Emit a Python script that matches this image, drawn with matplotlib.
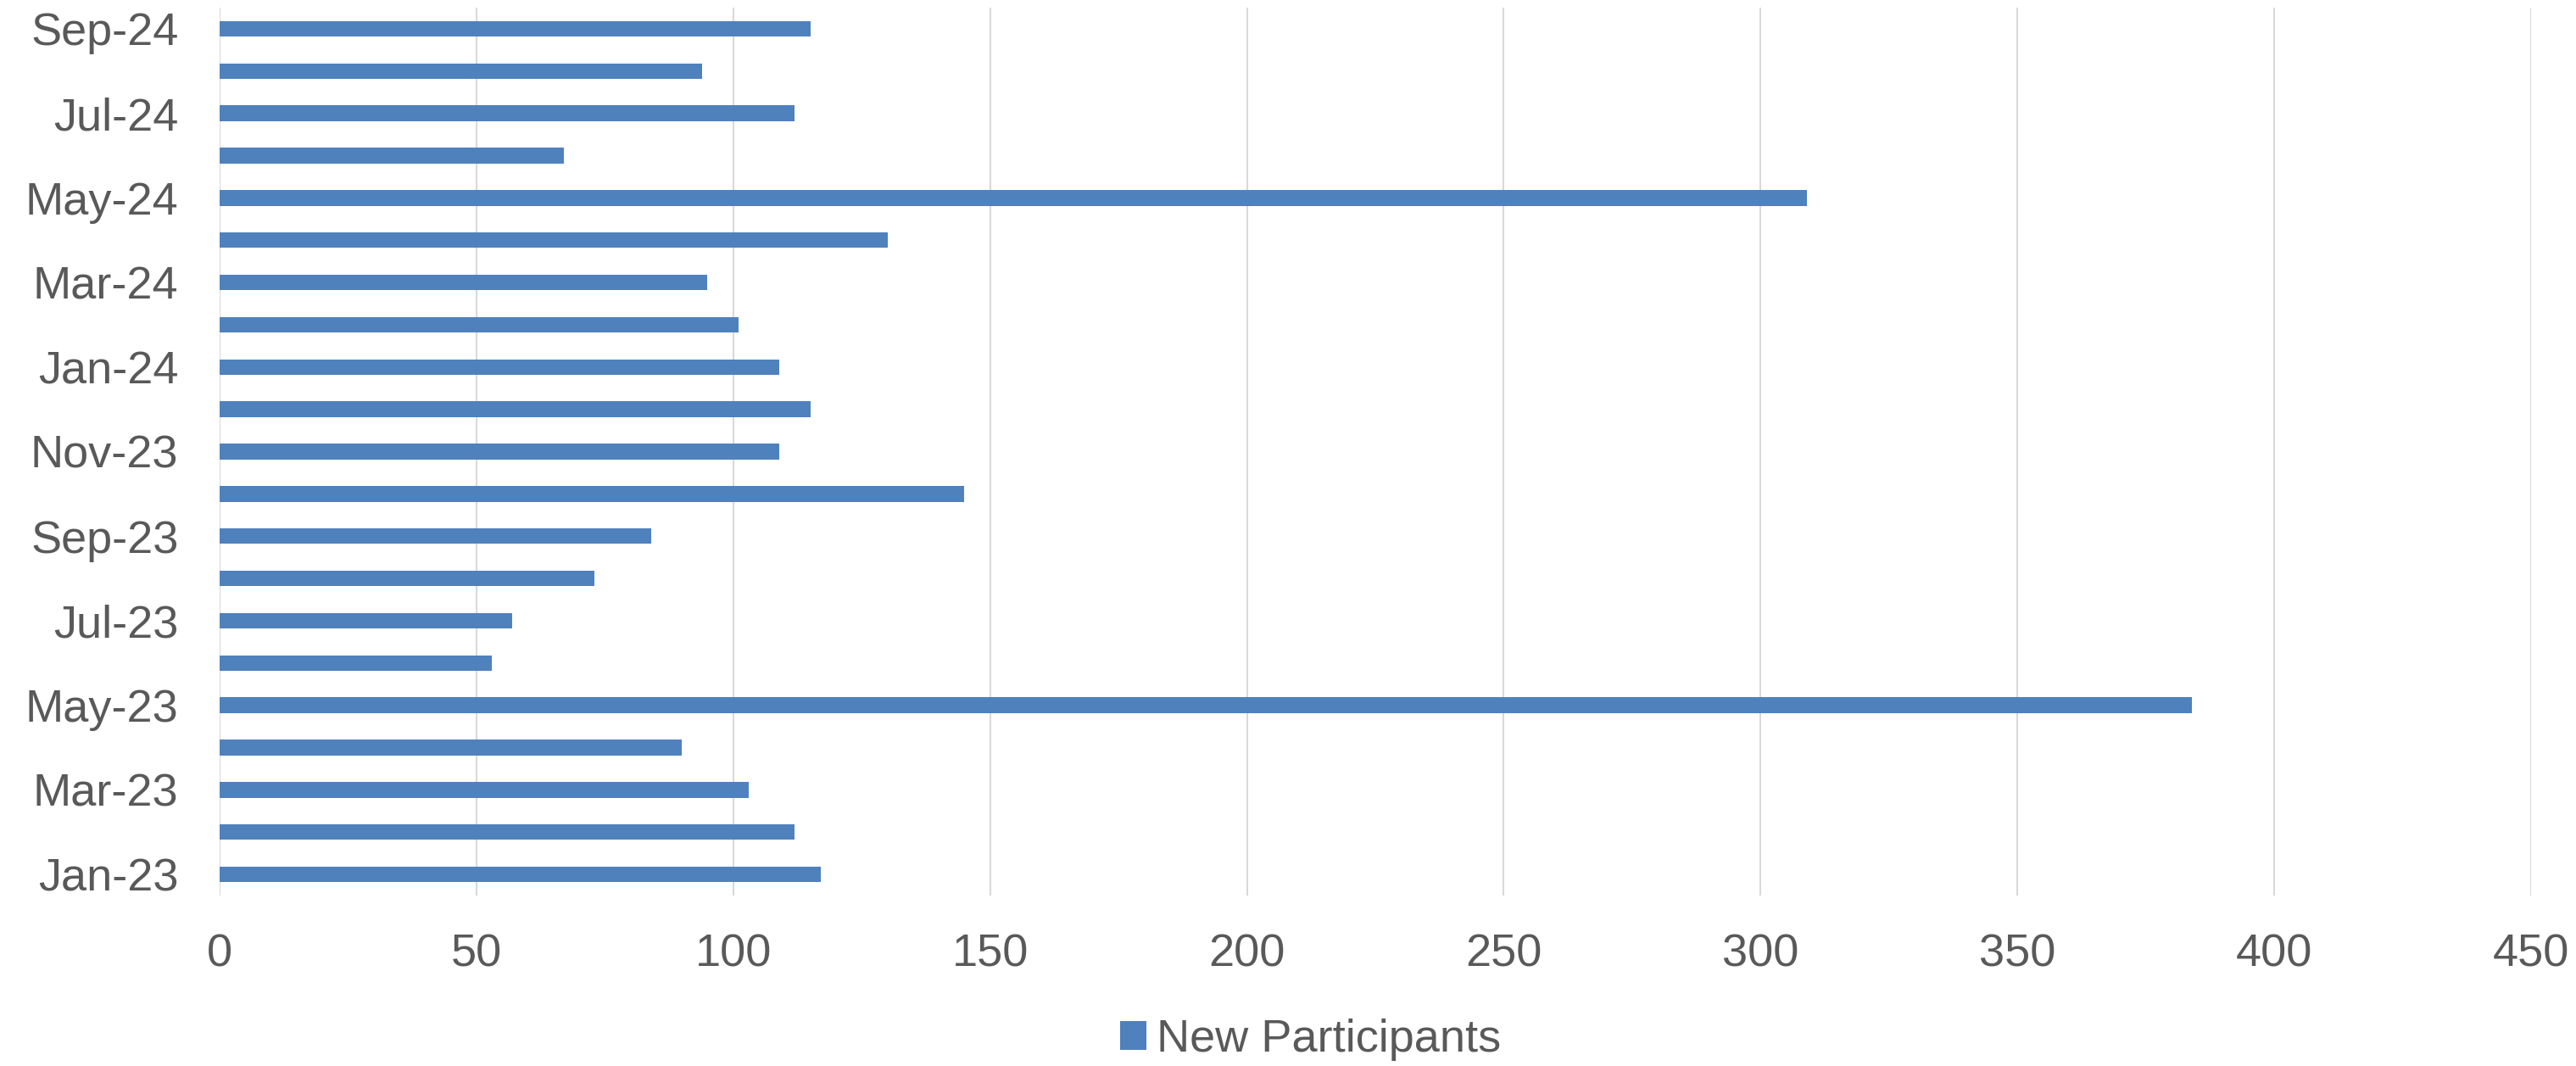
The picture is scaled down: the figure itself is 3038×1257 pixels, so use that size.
import matplotlib.pyplot as plt
import numpy as np

#---------------------------------------------------------------- data ----------------------------------------------------------------#
months = ["Jan-23", "Feb-23", "Mar-23", "Apr-23", "May-23", "Jun-23", "Jul-23", "Aug-23", "Sep-23", "Oct-23", "Nov-23",
          "Dec-23", "Jan-24", "Feb-24", "Mar-24", "Apr-24", "May-24", "Jun-24", "Jul-24", "Aug-24", "Sep-24"]
new_participants = [117, 112, 103, 90, 384, 53, 57, 73, 84, 145, 109,
                    115, 109, 101, 95, 130, 309, 67, 112, 94, 115]
x_ticks = [0, 50, 100, 150, 200, 250, 300, 350, 400, 450]

#---------------------------------------------------------------- plot ----------------------------------------------------------------#
plt.rcParams['font.family'] = ['Liberation Sans', 'DejaVu Sans']
text_col = "#595959"
bar_col = "#4F81BD"

fig = plt.figure(figsize=(30.38, 12.57), dpi=100)
ax = fig.add_axes([259/3038, 1 - 1056/1257, (2985-259)/3038, (1056-9)/1257])

y = np.arange(len(new_participants))
ax.barh(y, new_participants, height=0.37, color=bar_col, label="New Participants", zorder=3)

ax.set_xlim(0, 450)
ax.set_ylim(-0.5, len(new_participants) - 0.5)
ax.set_xticks(x_ticks)
ax.set_xticklabels([str(t) for t in x_ticks])
# only every second month gets a label
ax.set_yticks(y[::2])
ax.set_yticklabels(months[::2])
ax.grid(axis="x", color="#D9D9D9", linewidth=1.5, zorder=0)
for s in ax.spines.values():
    s.set_visible(False)
ax.tick_params(axis="both", length=0, labelsize=39, colors=text_col)
ax.tick_params(axis="x", pad=32)
ax.tick_params(axis="y", pad=35)

fig.legend(loc="center", bbox_to_anchor=(1546/3038, 1 - 1226/1257), frameon=False,
           fontsize=39, labelcolor=text_col, handlelength=0.57, handleheight=0.57, handletextpad=0.22)

plt.savefig("out.png", dpi=100)
